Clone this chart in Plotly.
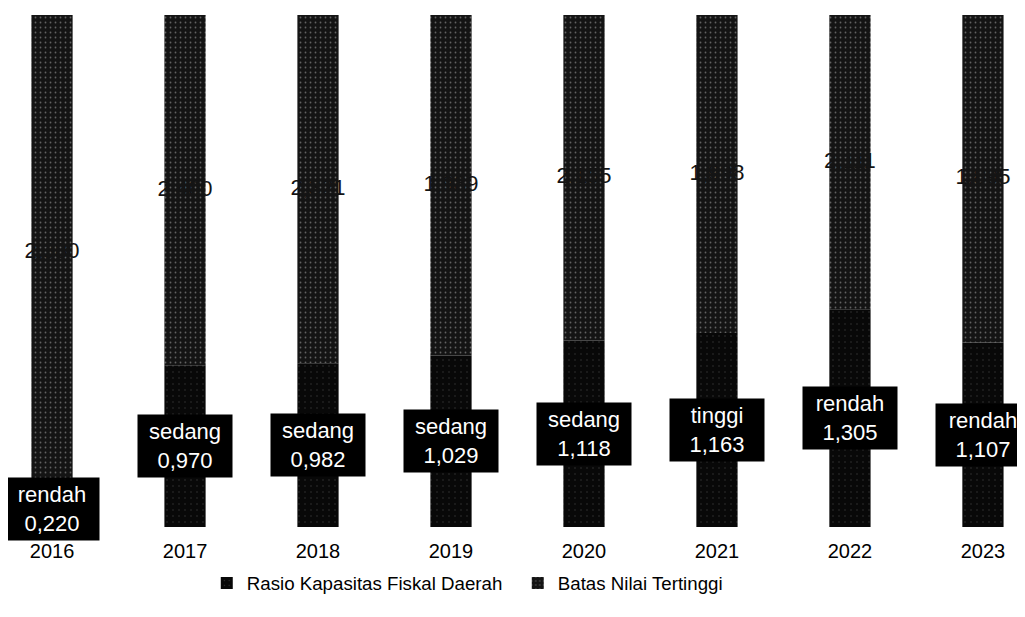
import plotly.graph_objects as go

# ---- data ----
years = ["2016", "2017", "2018", "2019", "2020", "2021", "2022", "2023"]
rasio = [0.220, 0.970, 0.982, 1.029, 1.118, 1.163, 1.305, 1.107]
kategori = ["rendah", "sedang", "sedang", "sedang", "sedang", "tinggi", "rendah", "rendah"]
batas = [2.380, 2.400, 2.321, 1.989, 2.155, 1.998, 2.111, 1.895]

Y_MAX = 3.07  # visible top of the value axis (bars of the upper limit fill up to it)

def fmt(v):
    return f"{v:.3f}".replace(".", ",")

FONT = "Arial, Liberation Sans, sans-serif"

fig = go.Figure()

# upper-limit bars (stippled, fill the column above the ratio)
fig.add_trace(go.Bar(
    x=years, y=[Y_MAX - r for r in rasio], base=rasio,
    name="Batas Nilai Tertinggi", width=0.31,
    marker=dict(color="#141414",
                pattern=dict(shape=".", fgcolor="#b0b0b0", bgcolor="#141414",
                             size=5, solidity=0.1),
                line=dict(width=0)),
    legendrank=2, hoverinfo="skip",
))

# ratio bars
fig.add_trace(go.Bar(
    x=years, y=rasio, name="Rasio Kapasitas Fiskal Daerah", width=0.31,
    marker=dict(color="#080808",
                pattern=dict(shape=".", fgcolor="#5a5a5a", bgcolor="#080808",
                             size=6, solidity=0.06),
                line=dict(width=0)),
    legendrank=1,
))

# labels of the upper limit, centred in the visible grey part
fig.add_trace(go.Scatter(
    x=years, y=[(r + Y_MAX) / 2 for r in rasio],
    mode="text", text=[fmt(b) for b in batas],
    textfont=dict(family=FONT, size=22, color="#141414"),
    showlegend=False, hoverinfo="skip",
))

# boxed labels of the ratio
for i, (r, k) in enumerate(zip(rasio, kategori)):
    fig.add_annotation(
        x=i, y=r / 2, xref="x", yref="y", text=f"{k}<br>{fmt(r)}", showarrow=False,
        font=dict(family=FONT, size=22, color="#ffffff"),
        bgcolor="#000000", width=92, height=60, borderpad=1,
        align="center", valign="middle",
    )

fig.update_layout(
    width=1009, height=601,
    barmode="overlay",
    paper_bgcolor="#ffffff", plot_bgcolor="#ffffff",
    margin=dict(l=0, r=0, t=7, b=82),
    font=dict(family=FONT, color="#000000"),
    xaxis=dict(type="category", range=[-0.331, 7.256], showgrid=False,
               showline=False, zeroline=False, ticks="", automargin=False,
               tickfont=dict(size=20, color="#000000"), ticklabelstandoff=10),
    yaxis=dict(range=[0, Y_MAX], visible=False, showgrid=False, zeroline=False),
    legend=dict(orientation="h", x=0.197, xanchor="left", y=-0.11, yanchor="middle",
                font=dict(size=18.7, color="#000000"), itemwidth=30,
                entrywidth=266, traceorder="normal"),
    showlegend=True,
)

fig.write_html("out.html")
